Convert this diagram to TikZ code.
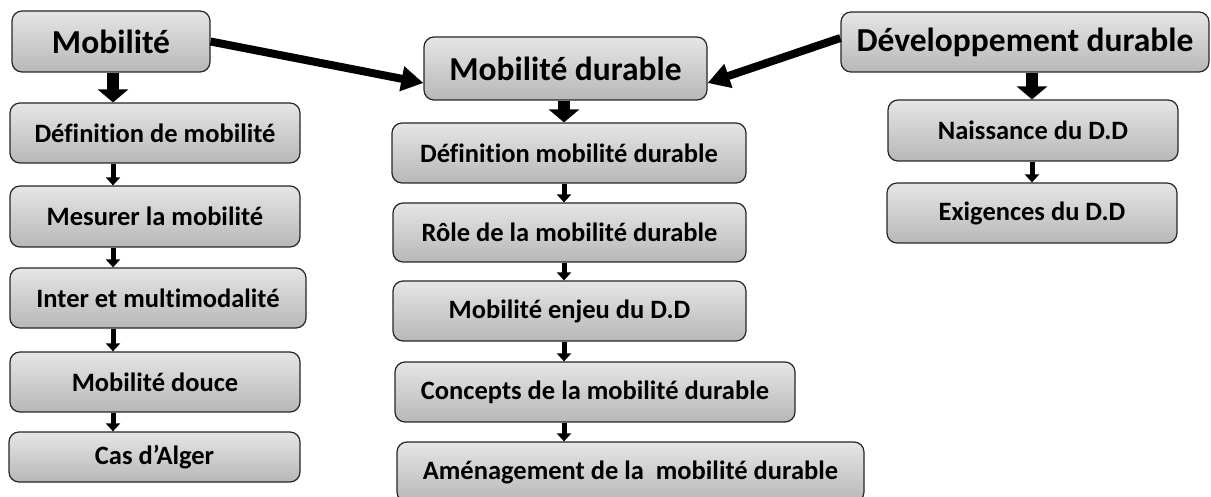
\documentclass[tikz,border=0pt]{standalone}
\usepackage{fontspec}
\setmainfont{Carlito}[Ligatures={NoCommon,NoContextual}]
\usetikzlibrary{arrows.meta}
\begin{document}
\begin{tikzpicture}[x=1pt,y=-1pt,
  box/.style={draw=black!85, line width=1.2pt, rounded corners=10pt,
    top color=black!10, bottom color=black!28, inner sep=0pt, align=center,
    font=\bfseries\fontsize{26.5}{30}\selectfont},
  headbox/.style={box, font=\bfseries\fontsize{33.5}{38}\selectfont},
  bigdown/.style={line width=12pt, -{Triangle[width=30pt,length=13pt]}},
  smalldown/.style={line width=5pt, -{Triangle[width=14pt,length=8pt]}},
  slant/.style={line width=8pt, -{Triangle[width=24pt,length=22pt]}}]
\clip (0,0) rectangle (1211,497);
% column axes for the vertical arrows
\coordinate (lx) at (113,0);
\coordinate (mx) at (564,0);
\coordinate (rx) at (1032,0);
% left column
\node[headbox, minimum width=198pt, minimum height=61pt] (mob) at (111,41.5) {Mobilité};
\node[box, minimum width=290pt, minimum height=60pt] (def) at (155,133) {Définition de mobilité};
\node[box, minimum width=290pt, minimum height=61pt] (mes) at (155,216.5) {Mesurer la mobilité};
\node[box, minimum width=296pt, minimum height=60pt] (inter) at (158,298) {Inter et multimodalité};
\node[box, minimum width=290pt, minimum height=60pt] (douce) at (155,382) {Mobilité douce};
\node[box, minimum width=291pt, minimum height=50pt] (alger) at (154.5,457) {Cas d’Alger};
% middle column
\node[headbox, minimum width=283pt, minimum height=63pt] (mobd) at (565.5,68.5) {Mobilité durable};
\node[box, minimum width=354pt, minimum height=60pt] (defmd) at (569,153) {Définition mobilité durable};
\node[box, minimum width=353pt, minimum height=59pt] (role) at (569.5,232.5) {Rôle de la mobilité durable};
\node[box, minimum width=353pt, minimum height=60pt] (enjeu) at (569.5,311) {Mobilité enjeu du D.D};
\node[box, minimum width=400pt, minimum height=60pt] (conc) at (595,392) {Concepts de la mobilité durable};
\node[box, minimum width=467pt, minimum height=60pt] (amen) at (630.5,472) {Aménagement de la\ \ mobilité durable};
% right column
\node[headbox, minimum width=368pt, minimum height=60pt] (dd) at (1025,42) {Développement durable};
\node[box, minimum width=290pt, minimum height=61pt] (nais) at (1033,130.5) {Naissance du D.D};
\node[box, minimum width=290pt, minimum height=60pt] (exig) at (1032,213) {Exigences du D.D};
% connectors
\draw[bigdown] (mob.south -| lx) -- (def.north -| lx);
\draw[smalldown] (def.south -| lx) -- (mes.north -| lx);
\draw[smalldown] (mes.south -| lx) -- (inter.north -| lx);
\draw[smalldown] (inter.south -| lx) -- (douce.north -| lx);
\draw[smalldown] (douce.south -| lx) -- (alger.north -| lx);
\draw[bigdown] (mobd.south -| mx) -- (defmd.north -| mx);
\draw[smalldown] (defmd.south -| mx) -- (role.north -| mx);
\draw[smalldown] (role.south -| mx) -- (enjeu.north -| mx);
\draw[smalldown] (enjeu.south -| mx) -- (conc.north -| mx);
\draw[smalldown] (conc.south -| mx) -- (amen.north -| mx);
\draw[bigdown] (dd.south -| rx) -- (nais.north -| rx);
\draw[smalldown] (nais.south -| rx) -- (exig.north -| rx);
\draw[slant] (mob.east) -- ([yshift=-14.5pt]mobd.west);
\draw[slant] ([yshift=4pt]dd.west) -- ([yshift=-14.5pt]mobd.east);
\end{tikzpicture}
\end{document}
